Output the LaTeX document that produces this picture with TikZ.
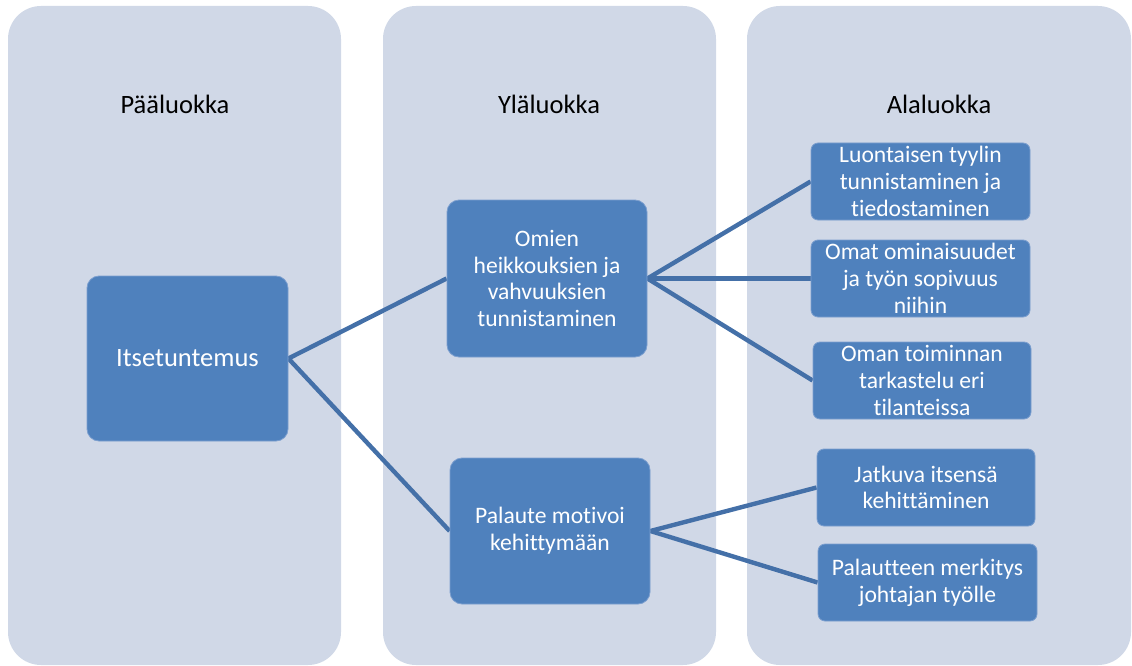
\documentclass[tikz,border=0pt]{standalone}
\usepackage{fontspec}
\setmainfont{Carlito}[Ligatures=NoCommon]
\definecolor{colfill}{HTML}{D0D8E7}
\definecolor{boxfill}{HTML}{4F81BD}
\definecolor{boxedge}{HTML}{7C9FCF}
\definecolor{linkcol}{HTML}{4470A8}
\pgfdeclarelayer{under}
\pgfsetlayers{under,main}
\tikzset{
  column/.style={fill=colfill, draw=none, rounded corners=33pt},
  header/.style={font=\fontsize{26.5}{31}\selectfont, text=black},
  bigbox/.style={fill=boxfill, draw=boxedge, line width=0.8pt, rounded corners=12pt,
    text=white, align=center, inner sep=0pt,
    font=\fontsize{23.6}{26.7}\selectfont},
  smallbox/.style={bigbox, rounded corners=7pt},
  link/.style={draw=linkcol, line width=4.4pt}
}
\begin{document}
\begin{tikzpicture}[x=1pt,y=-1pt]
\useasboundingbox (0,0) rectangle (1132,666);
\begin{pgfonlayer}{under}
  \fill[column] (8,6) rectangle (341,665);
  \fill[column] (383,6) rectangle (716,665);
  \fill[column] (747,6) rectangle (1131,665);
\end{pgfonlayer}

\node[header] (h1) at (175,104) {Pääluokka};
\node[header] (h2) at (549,104) {Yläluokka};
\node[header] (h3) at (939,104) {Alaluokka};

\node[bigbox, minimum width=201pt, minimum height=165pt, font=\fontsize{26.5}{31}\selectfont]
  (main) at (187.5,358.5) {Itsetuntemus};
\node[bigbox, minimum width=200pt, minimum height=157pt]
  (omien) at (547,278.5) {Omien\\heikkouksien ja\\vahvuuksien\\tunnistaminen};
\node[bigbox, minimum width=200pt, minimum height=146pt]
  (pal) at (550,531) {Palaute motivoi\\kehittymään};

\node[smallbox, minimum width=219pt, minimum height=77pt]
  (s1) at (920.5,181.5) {Luontaisen tyylin\\tunnistaminen ja\\tiedostaminen};
\node[smallbox, minimum width=219pt, minimum height=77pt]
  (s2) at (920.5,278.5) {Omat ominaisuudet\\ja työn sopivuus\\niihin};
\node[smallbox, minimum width=218pt, minimum height=77pt]
  (s3) at (922,380.5) {Oman toiminnan\\tarkastelu eri\\tilanteissa};
\node[smallbox, minimum width=218pt, minimum height=77pt]
  (s4) at (926,487.5) {Jatkuva itsensä\\kehittäminen};
\node[smallbox, minimum width=219pt, minimum height=77pt]
  (s5) at (927.5,582.5) {Palautteen merkitys\\johtajan työlle};

\begin{pgfonlayer}{under}
  \draw[link] (main.east) -- (omien.west);
  \draw[link] (main.east) -- (pal.west);
  \draw[link] (omien.east) -- (s1.west);
  \draw[link] (omien.east) -- (s2.west);
  \draw[link] (omien.east) -- (s3.west);
  \draw[link] (pal.east) -- (s4.west);
  \draw[link] (pal.east) -- (s5.west);
\end{pgfonlayer}
\end{tikzpicture}
\end{document}
